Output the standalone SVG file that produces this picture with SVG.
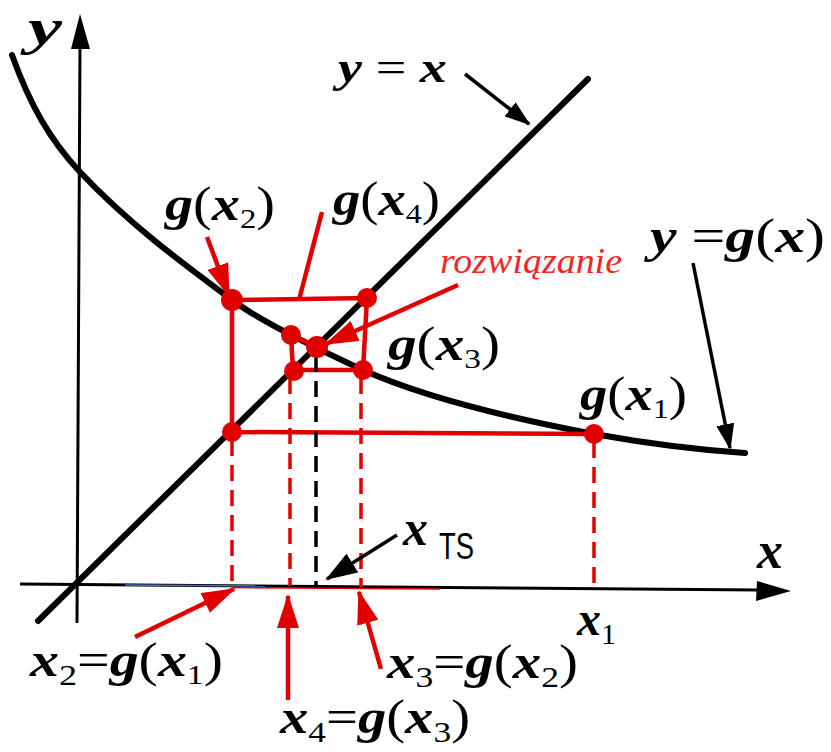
<svg xmlns="http://www.w3.org/2000/svg" width="831" height="752" viewBox="0 0 831 752">
<defs>
<style>
.ax{stroke:#000;stroke-width:3;fill:none}
.thick{stroke:#000;stroke-width:6;fill:none;stroke-linecap:round}
.red{stroke:#e00000;stroke-width:4.5;fill:none}
.rdash{stroke:#e00000;stroke-width:3.5;fill:none;stroke-dasharray:16 9}
.bdash{stroke:#000;stroke-width:3.5;fill:none;stroke-dasharray:16 9}
.rarrow{stroke:#e00000;stroke-width:4.5;fill:none}
.barrow{stroke:#000;stroke-width:3.5;fill:none}
.dot{fill:#e00000}
.m{font-family:"Liberation Serif","Times New Roman",serif;font-style:italic;font-weight:bold;fill:#000}
.up{font-style:normal;font-weight:normal}
.sub{font-style:normal;font-weight:normal}
.roz{font-family:"Liberation Serif",serif;font-style:italic;fill:#f02828}
</style>
<marker id="ra" markerUnits="userSpaceOnUse" markerWidth="34" markerHeight="22" refX="32" refY="11" orient="auto"><path d="M0,0 L34,11 L0,22 Z" fill="#e00000"/></marker>
<marker id="ba" markerUnits="userSpaceOnUse" markerWidth="26" markerHeight="18" refX="24" refY="9" orient="auto"><path d="M0,0 L26,9 L0,18 Z" fill="#000"/></marker>
<marker id="bb" markerUnits="userSpaceOnUse" markerWidth="32" markerHeight="22" refX="30" refY="11" orient="auto"><path d="M0,0 L32,11 L0,22 Z" fill="#000"/></marker>
</defs>
<rect width="831" height="752" fill="#fff"/>

<g id="axes">
<line class="ax" x1="77" y1="623" x2="80" y2="44"/>
<path d="M80,14 L90,49 L71,49 Z" fill="#000"/>
<line class="ax" x1="20" y1="584" x2="760" y2="590"/>
<path d="M791,591 L756,601 L757,581 Z" fill="#000"/>
<line x1="125" y1="585" x2="265" y2="586" stroke="#3a6fd8" stroke-width="1.5"/>
<line x1="233" y1="587.5" x2="440" y2="589" stroke="#e00000" stroke-width="1.5"/>
</g>

<g id="line-yx">
<line class="thick" x1="38" y1="621" x2="588" y2="79"/>
</g>

<g id="curve-g">
<path class="thick" d="M12,55 C30,105 50,140 80,172 C130,225 185,265 232,300 C260,321 320,350 363,370 C430,400 520,420 594,434 C650,444 700,450 745,453"/>
</g>

<g id="connectors">
<polyline class="red" points="594,434 232,432 232,300 367,298 363,370 293,370 291,335 317,347"/>
<line class="rdash" x1="232" y1="440" x2="232" y2="585"/>
<line class="rdash" x1="290" y1="378" x2="290" y2="586"/>
<line class="rdash" x1="361" y1="378" x2="361" y2="587"/>
<line class="rdash" x1="594" y1="442" x2="594" y2="589"/>
<line class="bdash" x1="316" y1="356" x2="316" y2="586"/>
<line class="rarrow" x1="207" y1="237" x2="229" y2="296" marker-end="url(#ra)"/>
<line class="rarrow" x1="322" y1="212" x2="299" y2="300"/>
<line class="rarrow" x1="458" y1="285" x2="326" y2="344" marker-end="url(#ra)"/>
<line class="rarrow" x1="135" y1="637" x2="234" y2="589" marker-end="url(#ra)"/>
<line class="rarrow" x1="288" y1="700" x2="288" y2="596" marker-end="url(#ra)"/>
<line class="rarrow" x1="381" y1="669" x2="359" y2="592" marker-end="url(#ra)"/>
<line class="barrow" x1="465" y1="74" x2="529" y2="124" marker-end="url(#ba)"/>
<line class="barrow" x1="693" y1="263" x2="730" y2="448" marker-end="url(#ba)"/>
<line class="barrow" x1="397" y1="535" x2="327" y2="579" stroke-width="5" marker-end="url(#bb)"/>
</g>

<g id="points">
<circle class="dot" cx="232" cy="300" r="11"/>
<circle class="dot" cx="367" cy="298" r="10"/>
<circle class="dot" cx="291" cy="335" r="10"/>
<circle class="dot" cx="317" cy="347" r="11"/>
<circle class="dot" cx="294" cy="371" r="10"/>
<circle class="dot" cx="363" cy="370" r="10"/>
<circle class="dot" cx="232" cy="432" r="10"/>
<circle class="dot" cx="594" cy="434" r="10"/>
</g>

<g id="labels">
<text class="m" x="28" y="44" font-size="50" textLength="34" lengthAdjust="spacingAndGlyphs">y</text>
<text class="m" x="338" y="82" font-size="44" textLength="109" lengthAdjust="spacingAndGlyphs">y <tspan class="up">=</tspan> x</text>
<text class="m" x="165" y="220" font-size="48" textLength="110" lengthAdjust="spacingAndGlyphs">g<tspan class="up">(</tspan>x<tspan class="sub" font-size="28" dy="8">2</tspan><tspan class="up" dy="-8">)</tspan></text>
<text class="m" x="333" y="215" font-size="48" textLength="107" lengthAdjust="spacingAndGlyphs">g<tspan class="up">(</tspan>x<tspan class="sub" font-size="28" dy="8">4</tspan><tspan class="up" dy="-8">)</tspan></text>
<text class="m" x="388" y="360" font-size="48" textLength="112" lengthAdjust="spacingAndGlyphs">g<tspan class="up">(</tspan>x<tspan class="sub" font-size="28" dy="8">3</tspan><tspan class="up" dy="-8">)</tspan></text>
<text class="m" x="580" y="410" font-size="48" textLength="107" lengthAdjust="spacingAndGlyphs">g<tspan class="up">(</tspan>x<tspan class="sub" font-size="28" dy="8">1</tspan><tspan class="up" dy="-8">)</tspan></text>
<text class="m" x="650" y="252" font-size="48" textLength="175" lengthAdjust="spacingAndGlyphs">y <tspan class="up">=</tspan>g<tspan class="up">(</tspan>x<tspan class="up">)</tspan></text>
<text class="roz" x="440" y="273" font-size="36" textLength="182" lengthAdjust="spacingAndGlyphs">rozwiązanie</text>
<text class="m" x="403" y="545" font-size="50">x</text>
<text x="439" y="559" font-size="36" font-family="Liberation Sans,sans-serif" textLength="35" lengthAdjust="spacingAndGlyphs">TS</text>
<text class="m" x="757" y="568" font-size="52">x</text>
<text class="m" x="577" y="635" font-size="48">x<tspan class="sub" font-size="30" dy="9">1</tspan></text>
<text class="m" x="30" y="676" font-size="48" textLength="193" lengthAdjust="spacingAndGlyphs">x<tspan class="sub" font-size="30" dy="9">2</tspan><tspan class="up" dy="-9">=</tspan>g<tspan class="up">(</tspan>x<tspan class="sub" font-size="28" dy="8">1</tspan><tspan class="up" dy="-8">)</tspan></text>
<text class="m" x="387" y="678" font-size="48" textLength="191" lengthAdjust="spacingAndGlyphs">x<tspan class="sub" font-size="30" dy="9">3</tspan><tspan class="up" dy="-9">=</tspan>g<tspan class="up">(</tspan>x<tspan class="sub" font-size="30" dy="9">2</tspan><tspan class="up" dy="-9">)</tspan></text>
<text class="m" x="280" y="733" font-size="48" textLength="190" lengthAdjust="spacingAndGlyphs">x<tspan class="sub" font-size="30" dy="9">4</tspan><tspan class="up" dy="-9">=</tspan>g<tspan class="up">(</tspan>x<tspan class="sub" font-size="30" dy="9">3</tspan><tspan class="up" dy="-9">)</tspan></text>
</g>
</svg>
